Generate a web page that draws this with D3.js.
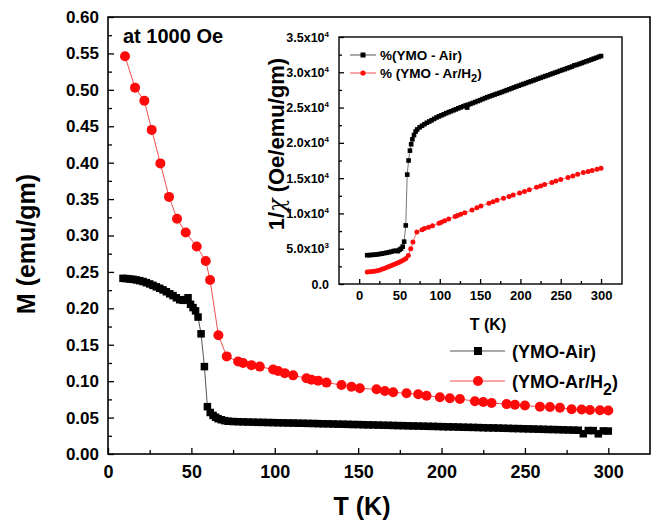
<!DOCTYPE html>
<html>
<head>
<meta charset="utf-8">
<script src="https://cdn.jsdelivr.net/npm/d3@7"></script>
<style>
  html, body { margin: 0; padding: 0; background: #fff; }
  svg { display: block; }
  text { font-family: "Liberation Sans", Arial, sans-serif; font-weight: bold; fill: #000; }
</style>
</head>
<body>
<svg id="chart" width="654" height="522"></svg>
<script>
// ---- Magnetisation M(T) at 1000 Oe ----
const airT = [9, 11, 13, 15, 17, 19, 21, 23, 25, 27, 29, 31, 33, 35, 37, 39, 41, 43, 45, 46.5, 48, 49.5, 51, 52.5, 54, 55.8, 57.8, 59.6, 61.3, 63, 64.5, 66, 68, 70, 72,
  75, 78, 81, 84, 87, 90, 93, 96, 99, 102, 105, 108, 111, 114, 117, 120, 123, 126, 129, 132, 135, 138, 141, 144, 147, 150,
  153, 156, 159, 162, 165, 168, 171, 174, 177, 180, 183, 186, 189, 192, 195, 198, 201, 204, 207, 210, 213, 216, 219, 222, 225,
  228, 231, 234, 237, 240, 243, 246, 249, 252, 255, 258, 261, 264, 267, 270, 273, 276, 279, 282, 285, 288, 291, 294, 297, 300];
const airM = [0.2412, 0.2408, 0.2403, 0.2398, 0.2390, 0.2380, 0.2368, 0.2352, 0.2335, 0.2315, 0.2295, 0.2275, 0.2253, 0.2228, 0.2200, 0.2175, 0.2145, 0.2118, 0.2110, 0.2120, 0.2145, 0.2055, 0.2010, 0.1965, 0.1880, 0.1650, 0.1200, 0.0650, 0.0570, 0.0530, 0.0505, 0.0485, 0.0470, 0.0458, 0.0450,
  0.0446, 0.0443, 0.0441, 0.0439, 0.0437, 0.0435, 0.0434, 0.0432, 0.0431, 0.0429, 0.0428, 0.0426, 0.0425, 0.0423, 0.0422, 0.0420, 0.0419, 0.0417, 0.0415, 0.0414, 0.0412, 0.0410, 0.0409, 0.0407, 0.0405, 0.0404,
  0.0402, 0.0400, 0.0399, 0.0397, 0.0395, 0.0394, 0.0392, 0.0390, 0.0389, 0.0387, 0.0385, 0.0384, 0.0382, 0.0380, 0.0379, 0.0377, 0.0375, 0.0373, 0.0372, 0.0370, 0.0368, 0.0366, 0.0365, 0.0363, 0.0361,
  0.0359, 0.0358, 0.0356, 0.0354, 0.0352, 0.0350, 0.0349, 0.0347, 0.0345, 0.0343, 0.0341, 0.0339, 0.0337, 0.0336, 0.0334, 0.0332, 0.0330, 0.0328, 0.0326, 0.0278, 0.0322, 0.0321, 0.0277, 0.0317, 0.0315];

const h2T = [10.2, 16.2, 21.8, 26.2, 31.4, 36.6, 41.4, 46.6, 53.2, 58.6, 61.2, 66.2, 71.2, 78, 81, 86, 91, 99, 102, 106, 111, 119, 122, 126, 131,
  140, 146, 151, 161, 166, 171, 179, 186, 191, 199, 205, 211, 220, 225, 230, 239, 244, 250, 259, 265, 271, 278, 284, 289, 295, 300];
const h2M = [0.546, 0.503, 0.485, 0.445, 0.399, 0.353, 0.323, 0.304, 0.285, 0.265, 0.239, 0.163, 0.134, 0.127, 0.125, 0.122, 0.120, 0.116, 0.114, 0.111, 0.108, 0.104, 0.102, 0.1007, 0.098,
  0.0947, 0.0924, 0.0902, 0.0888, 0.0865, 0.0847, 0.0833, 0.0820, 0.0800, 0.0780, 0.0765, 0.0755, 0.0725, 0.0715, 0.0700, 0.0685, 0.0675, 0.0665, 0.0650, 0.0645, 0.0635, 0.0615, 0.0610, 0.0605, 0.0600, 0.0598];

// ---- Inverse susceptibility 1/chi(T) ----
const invAirT = [10, 13, 16, 19, 22, 25, 28, 31, 34, 37, 40, 43, 46, 48, 50, 52, 54, 55.8, 57.8, 59.6, 61.3, 63, 64.5, 66, 68, 70, 72,
  75, 78, 81, 84, 87, 90, 93, 96, 99, 102, 105, 108, 111, 114, 117, 120, 123, 126, 129, 132, 134, 135, 138, 141, 144, 147, 150,
  153, 156, 159, 162, 165, 168, 171, 174, 177, 180, 183, 186, 189, 192, 195, 198, 201, 204, 207, 210, 213, 216, 219, 222, 225,
  228, 231, 234, 237, 240, 243, 246, 249, 252, 255, 258, 261, 264, 267, 270, 273, 276, 279, 282, 285, 288, 291, 294, 297, 300];
const invAirV = [4080, 4100, 4120, 4150, 4190, 4240, 4300, 4360, 4430, 4500, 4580, 4680, 4720, 4650, 4850, 5000, 5300, 6000, 8300, 15500, 17500, 18900, 19800, 20500, 21100, 21600, 21900,
  22200, 22420, 22640, 22850, 23030, 23200, 23400, 23600, 23750, 23900, 24050, 24200, 24350, 24480, 24620, 24750, 24900, 25030, 25170, 25300, 25000, 25400, 25520, 25650, 25780, 25920, 26050,
  26200, 26340, 26470, 26600, 26720, 26840, 26960, 27080, 27200, 27330, 27460, 27590, 27720, 27850, 27980, 28100, 28230, 28350, 28470, 28600, 28720, 28840, 28970, 29090, 29210,
  29340, 29460, 29580, 29700, 29830, 29950, 30070, 30200, 30320, 30440, 30570, 30690, 30810, 30980, 31060, 31180, 31310, 31430, 31560, 31680, 31800, 31930, 32050, 32180, 32300];

const invH2T = [10, 13, 16, 19, 22, 25, 28, 31, 34, 37, 40, 43, 46, 49, 52, 55, 58, 61, 64, 66.7, 71.6, 78, 81, 86, 91, 99, 102, 106, 111, 119, 122, 126, 131,
  140, 146, 151, 161, 166, 171, 179, 186, 191, 199, 205, 211, 220, 225, 230, 239, 244, 250, 259, 265, 271, 278, 284, 289, 295, 300];
const invH2V = [1700, 1720, 1760, 1800, 1880, 1960, 2080, 2200, 2350, 2480, 2620, 2760, 2900, 3050, 3220, 3400, 3600, 4050, 5000, 5940, 7360, 7700, 7850, 8050, 8250, 8600, 8750, 8950, 9200, 9550, 9700, 9900, 10100,
  10500, 10800, 11050, 11450, 11650, 11850, 12150, 12400, 12600, 12900, 13100, 13350, 13700, 13900, 14100, 14400, 14600, 14800, 15100, 15300, 15550, 15800, 15950, 16100, 16250, 16400];

// ---- Tick values and labels ----
const mainXTicks = [0, 50, 100, 150, 200, 250, 300];
const mainXMinor = [25, 75, 125, 175, 225, 275];
const mainYTicks = [0, 0.05, 0.10, 0.15, 0.20, 0.25, 0.30, 0.35, 0.40, 0.45, 0.50, 0.55, 0.60];
const mainYMinor = [0.025, 0.075, 0.125, 0.175, 0.225, 0.275, 0.325, 0.375, 0.425, 0.475, 0.525, 0.575];
const insetXTicks = [0, 50, 100, 150, 200, 250, 300];
const insetXMinor = [25, 75, 125, 175, 225, 275];
const insetYTicks = [0, 5000, 10000, 15000, 20000, 25000, 30000, 35000];
const insetYMinor = [2500, 7500, 12500, 17500, 22500, 27500, 32500];
const insetYLabels = [["0.0", ""], ["5.0x10", "3"], ["1.0x10", "4"], ["1.5x10", "4"], ["2.0x10", "4"], ["2.5x10", "4"], ["3.0x10", "4"], ["3.5x10", "4"]];

const BLACK_LINE = "#555";
const RED = "#ff0a0a";
const RED_LINE = "#f05050";
const FONT = "Liberation Sans, Arial, sans-serif";

const svg = d3.select("#chart");
const toPts = (ts, vs) => ts.map((t, i) => [t, vs[i]]);

// ================= Main panel =================
const x = d3.scaleLinear().domain([0, 325]).range([108, 650]);
const y = d3.scaleLinear().domain([0, 0.6]).range([454, 17]);

const main = svg.append("g");

function styleAxis(g) {
  g.select(".domain").remove();
  g.selectAll("line").attr("stroke", "#000").attr("stroke-width", 1.3);
}
const boldText = size => g => g.selectAll("text")
  .attr("font-size", size).attr("font-family", FONT).attr("font-weight", "bold").attr("fill", "#000");

main.append("g").attr("transform", `translate(0,${y(0)})`)
  .call(d3.axisBottom(x).tickValues(mainXTicks).tickSizeInner(-6).tickSizeOuter(0).tickPadding(11).tickFormat(d3.format("d")))
  .call(styleAxis).call(boldText(18));
main.append("g").attr("transform", `translate(0,${y(0)})`)
  .call(d3.axisBottom(x).tickValues(mainXMinor).tickSizeInner(-4).tickSizeOuter(0).tickFormat(""))
  .call(styleAxis);

main.append("g").attr("transform", `translate(${x(0)},0)`)
  .call(d3.axisLeft(y).tickValues(mainYTicks).tickSizeInner(-6).tickSizeOuter(0).tickPadding(9).tickFormat(d3.format(".2f")))
  .call(styleAxis).call(boldText(17));
main.append("g").attr("transform", `translate(${x(0)},0)`)
  .call(d3.axisLeft(y).tickValues(mainYMinor).tickSizeInner(-4).tickSizeOuter(0).tickFormat(""))
  .call(styleAxis);

main.append("rect")
  .attr("x", x(0)).attr("y", y(0.6))
  .attr("width", x(325) - x(0)).attr("height", y(0) - y(0.6))
  .attr("fill", "none").attr("stroke", "#000").attr("stroke-width", 1.6);

const line = d3.line().x(d => x(d[0])).y(d => y(d[1]));
const airPts = toPts(airT, airM);
const h2Pts = toPts(h2T, h2M);

main.append("path").datum(airPts).attr("d", line)
  .attr("fill", "none").attr("stroke", BLACK_LINE).attr("stroke-width", 1);
main.append("path").datum(h2Pts).attr("d", line)
  .attr("fill", "none").attr("stroke", RED_LINE).attr("stroke-width", 1);

const sq = 7.5;
main.selectAll("rect.air").data(airPts).join("rect").attr("class", "air")
  .attr("x", d => x(d[0]) - sq / 2).attr("y", d => y(d[1]) - sq / 2)
  .attr("width", sq).attr("height", sq).attr("fill", "#000");
main.selectAll("circle.h2").data(h2Pts).join("circle").attr("class", "h2")
  .attr("cx", d => x(d[0])).attr("cy", d => y(d[1])).attr("r", 5).attr("fill", RED);

main.append("text").attr("x", 123).attr("y", 43).attr("font-size", 20).text("at 1000 Oe");

main.append("text").attr("x", 362).attr("y", 515).attr("text-anchor", "middle").attr("font-size", 25).text("T (K)");
main.append("text").attr("transform", "translate(35,244) rotate(-90)").attr("text-anchor", "middle").attr("font-size", 25).text("M (emu/gm)");

// main legend
const lg = main.append("g");
lg.append("line").attr("x1", 450).attr("x2", 505).attr("y1", 351).attr("y2", 351).attr("stroke", BLACK_LINE).attr("stroke-width", 1);
lg.append("rect").attr("x", 478 - 4).attr("y", 351 - 4).attr("width", 8).attr("height", 8).attr("fill", "#000");
lg.append("text").attr("x", 512).attr("y", 357.5).attr("font-size", 18).text("(YMO-Air)");
lg.append("line").attr("x1", 450).attr("x2", 505).attr("y1", 381).attr("y2", 381).attr("stroke", RED_LINE).attr("stroke-width", 1);
lg.append("circle").attr("cx", 478).attr("cy", 381).attr("r", 5).attr("fill", RED);
const lt = lg.append("text").attr("x", 512).attr("y", 387.5).attr("font-size", 18);
lt.append("tspan").text("(YMO-Ar/H");
lt.append("tspan").attr("dy", 7).attr("font-size", 16).text("2");
lt.append("tspan").attr("dy", -7).text(")");

// ================= Inset panel =================
const xi = d3.scaleLinear().domain([-25, 326]).range([339, 622]);
const yi = d3.scaleLinear().domain([0, 35000]).range([284, 37]);
const inset = svg.append("g");

inset.append("rect").attr("x", xi(-25)).attr("y", yi(35000))
  .attr("width", xi(326) - xi(-25)).attr("height", yi(0) - yi(35000)).attr("fill", "#fff");

inset.append("g").attr("transform", `translate(0,${yi(0)})`)
  .call(d3.axisBottom(xi).tickValues(insetXTicks).tickSizeInner(-5).tickSizeOuter(0).tickPadding(7).tickFormat(d3.format("d")))
  .call(styleAxis).call(boldText(13));
inset.append("g").attr("transform", `translate(0,${yi(0)})`)
  .call(d3.axisBottom(xi).tickValues(insetXMinor).tickSizeInner(-3).tickSizeOuter(0).tickFormat(""))
  .call(styleAxis);

const yAx = inset.append("g").attr("transform", `translate(${xi(-25)},0)`)
  .call(d3.axisLeft(yi).tickValues(insetYTicks).tickSizeInner(-5).tickSizeOuter(0).tickPadding(10).tickFormat(""))
  .call(styleAxis).call(boldText(12.5));
yAx.selectAll(".tick text").each(function (d, i) {
  const t = d3.select(this);
  const lab = insetYLabels[i];
  t.text(null);
  t.append("tspan").text(lab[0]);
  if (lab[1]) t.append("tspan").attr("dy", -5).attr("font-size", 8).text(lab[1]);
});
inset.append("g").attr("transform", `translate(${xi(-25)},0)`)
  .call(d3.axisLeft(yi).tickValues(insetYMinor).tickSizeInner(-3).tickSizeOuter(0).tickFormat(""))
  .call(styleAxis);

inset.append("rect").attr("x", xi(-25)).attr("y", yi(35000))
  .attr("width", xi(326) - xi(-25)).attr("height", yi(0) - yi(35000))
  .attr("fill", "none").attr("stroke", "#000").attr("stroke-width", 1.4);

const lineI = d3.line().x(d => xi(d[0])).y(d => yi(d[1]));
const invAirPts = toPts(invAirT, invAirV);
const invH2Pts = toPts(invH2T, invH2V);
inset.append("path").datum(invAirPts).attr("d", lineI)
  .attr("fill", "none").attr("stroke", BLACK_LINE).attr("stroke-width", 0.8);
inset.append("path").datum(invH2Pts).attr("d", lineI)
  .attr("fill", "none").attr("stroke", RED_LINE).attr("stroke-width", 0.8);
const sqi = 4.6;
inset.selectAll("rect.iair").data(invAirPts).join("rect").attr("class", "iair")
  .attr("x", d => xi(d[0]) - sqi / 2).attr("y", d => yi(d[1]) - sqi / 2)
  .attr("width", sqi).attr("height", sqi).attr("fill", "#000");
inset.selectAll("circle.ih2").data(invH2Pts).join("circle").attr("class", "ih2")
  .attr("cx", d => xi(d[0])).attr("cy", d => yi(d[1])).attr("r", 2.5).attr("fill", RED);

inset.append("text").attr("x", 488).attr("y", 330).attr("text-anchor", "middle").attr("font-size", 16).text("T (K)");
const yt = inset.append("text").attr("transform", "translate(284,144) rotate(-90)").attr("text-anchor", "middle").attr("font-size", 22);
yt.append("tspan").text("1/");
yt.append("tspan").attr("font-family", "DejaVu Serif, serif").attr("font-style", "italic").attr("font-weight", "normal").text("χ");
yt.append("tspan").text(" (Oe/emu/gm)");

// inset legend
const il = inset.append("g");
il.append("line").attr("x1", 350).attr("x2", 376).attr("y1", 55).attr("y2", 55).attr("stroke", BLACK_LINE).attr("stroke-width", 1);
il.append("rect").attr("x", 363 - 2.5).attr("y", 55 - 2.5).attr("width", 5).attr("height", 5).attr("fill", "#000");
il.append("text").attr("x", 380).attr("y", 60).attr("font-size", 13.5).text("%(YMO - Air)");
il.append("line").attr("x1", 350).attr("x2", 376).attr("y1", 73).attr("y2", 73).attr("stroke", RED_LINE).attr("stroke-width", 1);
il.append("circle").attr("cx", 363).attr("cy", 73).attr("r", 2.6).attr("fill", RED);
const ilt = il.append("text").attr("x", 380).attr("y", 78).attr("font-size", 13.5);
ilt.append("tspan").text("% (YMO - Ar/H");
ilt.append("tspan").attr("dy", 4).attr("font-size", 11).text("2");
ilt.append("tspan").attr("dy", -4).text(")");
</script>
</body>
</html>
